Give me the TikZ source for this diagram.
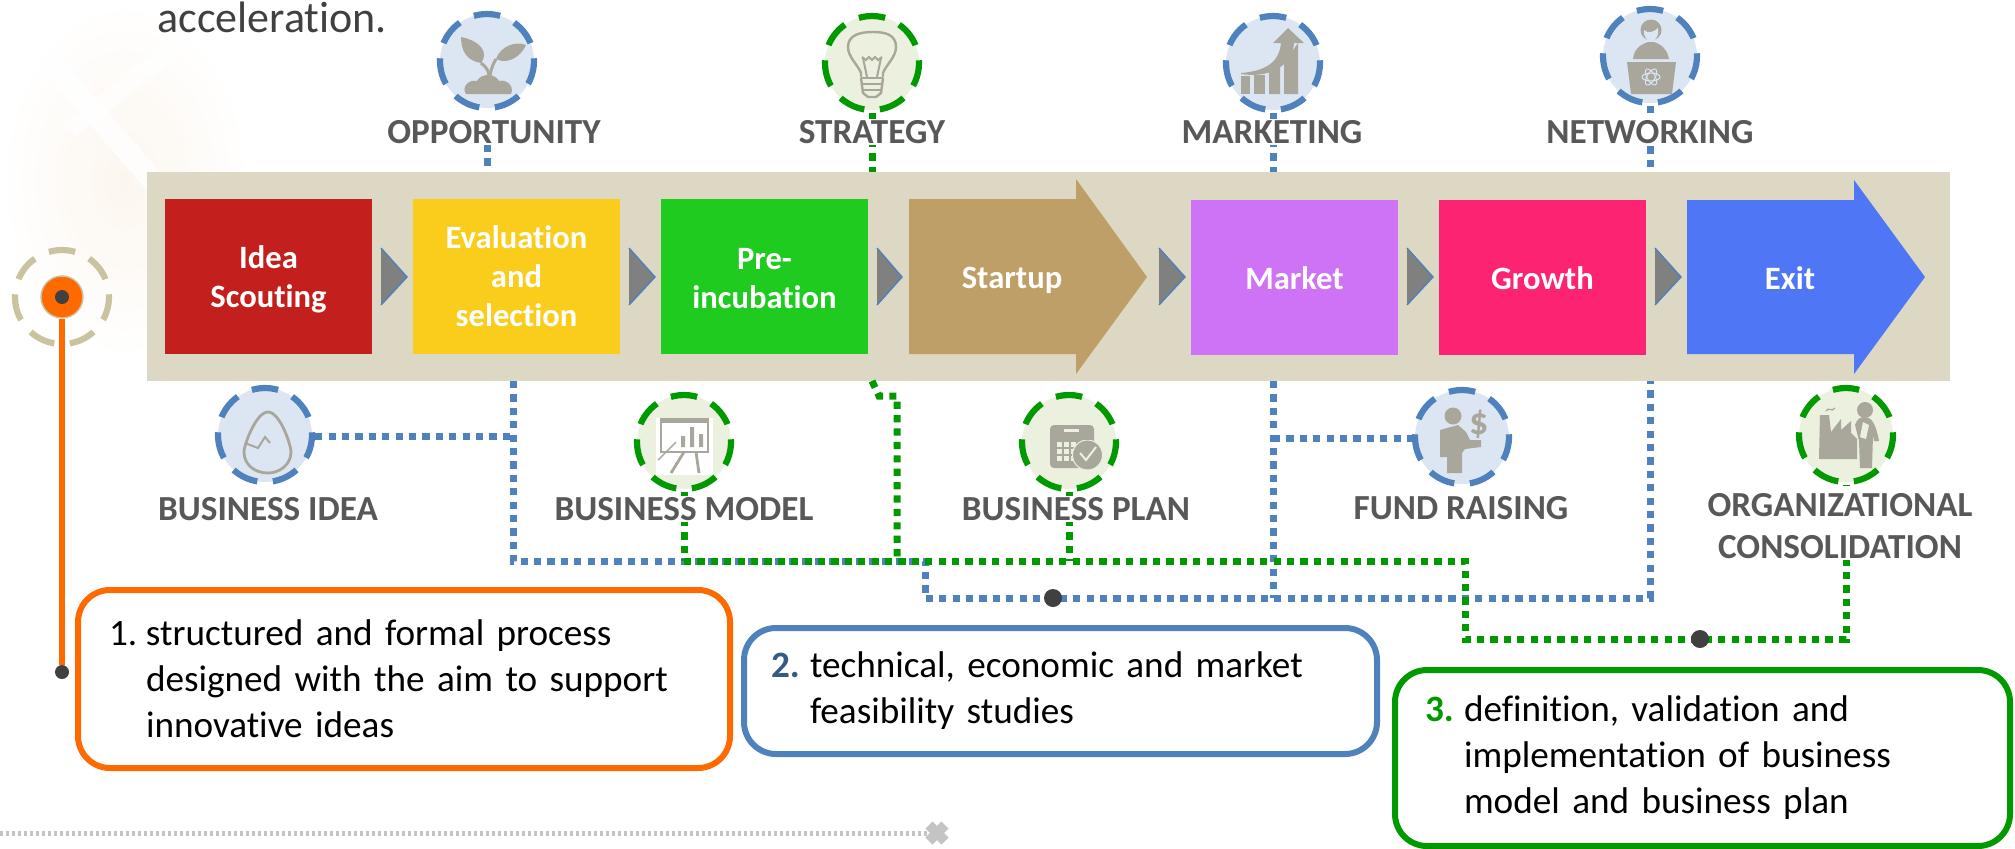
\documentclass[tikz,border=0pt]{standalone}
\usepackage{fontspec}
\setmainfont{Carlito}[Ligatures=NoCommon]
\definecolor{bandcol}{HTML}{DDD8C3}
\definecolor{ideared}{HTML}{C31F1C}
\definecolor{evalyellow}{HTML}{FACC1C}
\definecolor{pregreen}{HTML}{20CB20}
\definecolor{startuptan}{HTML}{BE9F68}
\definecolor{marketpink}{HTML}{CE73F5}
\definecolor{growthred}{HTML}{FC2372}
\definecolor{exitblue}{HTML}{4F77F5}
\definecolor{linkblue}{HTML}{4F81BD}
\definecolor{linkgreen}{HTML}{009A00}
\definecolor{linkorange}{HTML}{FF6A00}
\definecolor{ringtan}{HTML}{C9C3A0}
\definecolor{paleblue}{HTML}{DCE6F2}
\definecolor{palegreen}{HTML}{EBF0DF}
\definecolor{icongrey}{HTML}{A9A69C}
\definecolor{labelgrey}{HTML}{585858}
\definecolor{darkdot}{HTML}{404040}
\definecolor{chevgrey}{HTML}{808080}
\definecolor{dotgrey}{HTML}{C4C4C4}
\definecolor{peach}{HTML}{FCF6EE}
\tikzset{
	stagebox/.style={draw=none, inner sep=0pt, minimum width=103.5pt, minimum height=77.5pt},
	stagetext/.style={align=center, text=white, inner sep=0pt, font=\fontsize{16.3}{19.5}\selectfont\bfseries},
	ringbase/.style={circle, minimum size=47pt, inner sep=0pt, line width=3.1pt, dash pattern=on 13.3pt off 7.8pt, dash phase=11.95pt},
	bluering/.style={ringbase, draw=linkblue, fill=paleblue},
	greenring/.style={ringbase, draw=linkgreen, fill=palegreen},
	tanring/.style={ringbase, draw=ringtan},
	toplabel/.style={fill=white, text=labelgrey, align=center, inner sep=0.5pt, font=\fontsize{17.6}{21}\selectfont\bfseries},
	bluelink/.style={draw=linkblue, line width=3.5pt, dash pattern=on 3.6pt off 3.1pt},
	greenlink/.style={draw=linkgreen, line width=3.5pt, dash pattern=on 3.6pt off 3.1pt},
	blackdot/.style={circle, fill=darkdot, inner sep=0pt, minimum size=9pt},
	notebox/.style={draw, rounded corners=16pt, line width=3pt, align=left, inner ysep=0pt, font=\fontsize{18.6}{23}\selectfont},
	chevron/.style={fill=chevgrey},
	chevedge/.style={draw=linkblue, line width=0.7pt},
	icon/.style={fill=icongrey, draw=none},
	iconline/.style={draw=icongrey, line width=1.2pt}
}
\begin{document}
\begin{tikzpicture}[x=0.5pt, y=-0.5pt]
	\useasboundingbox (0,0) rectangle (2015,848);

	\shade[inner color=peach, outer color=white] (0,0) rectangle (250,360);
	\draw[white, line width=11pt, opacity=0.8] (0,5) -- (170,200);
	\draw[white, line width=9pt, opacity=0.7] (70,130) -- (190,35);

	\node[text=darkdot, anchor=base west, inner sep=0pt, font=\fontsize{22}{26}\selectfont] (accel) at (157,32) {acceleration.};

	\node[fill=bandcol, minimum width=901.5pt, minimum height=104.5pt, inner sep=0pt] (band) at (1048.5,276.5) {};

	\node[stagebox, fill=ideared] (idea) at (268.5,276.5) {};
	\node[stagebox, fill=evalyellow] (eval) at (516.5,276.5) {};
	\node[stagebox, fill=pregreen] (preinc) at (764.5,276.5) {};
	\fill[startuptan] (909,199) -- (1076,199) -- (1076,179) -- (1147,277) -- (1076,374) -- (1076,354) -- (909,354) -- cycle;
	\node[stagebox, fill=marketpink] (market) at (1294.5,277.5) {};
	\node[stagebox, fill=growthred] (growth) at (1542.5,277.5) {};
	\fill[exitblue] (1687,200) -- (1854,200) -- (1854,180) -- (1925,277) -- (1854,374) -- (1854,354) -- (1687,354) -- cycle;

	\node[stagetext] (ideaText) at (268.5,279.5) {Idea\\Scouting};
	\node[stagetext] (evalText) at (516.5,276.5) {Evaluation\\and\\selection};
	\node[stagetext] (preincText) at (764.5,278.5) {Pre-\\incubation};
	\node[stagetext] (startupText) at (1012,280) {Startup};
	\node[stagetext] (marketText) at (1294.5,278) {Market};
	\node[stagetext] (growthText) at (1542.5,278) {Growth};
	\node[stagetext] (exitText) at (1790,278) {Exit};

	\foreach \cx/\cw in {381/26, 629/26, 877/25, 1159/26, 1407/26, 1655/26}{
		\fill[chevron] (\cx,248) -- (\cx+\cw,277) -- (\cx,305) -- cycle;
		\draw[chevedge] (\cx,248) -- (\cx+\cw,277) -- (\cx,305);
	}

	\node[bluering] (oppIcon) at (487,61) {};
	\node[greenring] (stratIcon) at (872,63) {};
	\node[bluering] (markIcon) at (1273,63) {};
	\node[bluering] (netIcon) at (1650,56) {};
	\node[bluering] (ideaIcon) at (265,435) {};
	\node[greenring] (modelIcon) at (684,442) {};
	\node[greenring] (planIcon) at (1069,442) {};
	\node[bluering] (fundIcon) at (1462,437) {};
	\node[greenring] (orgIcon) at (1846,435) {};

	\begin{scope}[shift={(oppIcon.center)}]
		\fill[icon] (-26,-24) .. controls (-6,-20) and (2,-8) .. (-6,2) .. controls (-20,0) and (-26,-10) .. cycle;
		\fill[icon] (39,-16) .. controls (30,-20) and (14,-16) .. (9,-2) .. controls (20,4) and (34,-4) .. cycle;
		\draw[iconline, line width=1.5pt] (-6,2) .. controls (2,8) and (3,14) .. (2,22);
		\draw[iconline, line width=1.5pt] (9,-2) .. controls (5,4) and (3,12) .. (2,22);
		\fill[icon] (-21,33) -- (24,33) .. controls (28,24) and (18,18) .. (12,20) .. controls (8,12) and (-6,12) .. (-10,20) .. controls (-18,18) and (-26,26) .. (-21,33) -- cycle;
	\end{scope}

	\begin{scope}[shift={(stratIcon.center)}]
		\draw[iconline] (-11,14) -- (-11,10) .. controls (-14,2) and (-24,-6) .. (-24,-16) .. controls (-24,-28) and (-12,-31) .. (1,-31) .. controls (14,-31) and (24,-28) .. (24,-16) .. controls (24,-6) and (14,2) .. (11,10) -- (11,14);
		\draw[iconline, line width=1pt] (-10,-6) -- (-6,-3) -- (-3,-6) -- (0,-3) -- (3,-6) -- (6,-3) -- (10,-6);
		\draw[iconline, line width=1pt] (-9,-5) -- (-5,14) (9,-5) -- (5,14);
		\draw[iconline] (-11,15) -- (11,15) (-10,21) -- (10,21) (-9,27) -- (9,27);
		\draw[iconline] (-11,15) -- (-9,30) -- (-4,34) -- (4,34) -- (9,30) -- (11,15);
	\end{scope}

	\begin{scope}[shift={(markIcon.center)}]
		\fill[icon] (-32,13) -- (-23,13) -- (-23,31) -- (-32,31) -- cycle;
		\fill[icon] (-19,12) -- (-8,12) -- (-8,31) -- (-19,31) -- cycle;
		\fill[icon] (-4,8) -- (7,4) -- (7,31) -- (-4,31) -- cycle;
		\fill[icon] (11,0) -- (25,-20) -- (25,31) -- (11,31) -- cycle;
		\fill[icon] (-32,10) .. controls (-8,8) and (6,0) .. (8,-20) -- (0,-20) -- (15,-35) -- (31,-20) -- (21,-20) .. controls (20,0) and (0,16) .. (-32,11) -- cycle;
	\end{scope}

	\begin{scope}[shift={(netIcon.center)}]
		\fill[icon] (1,-26) circle[radius=10.5];
		\fill[paleblue] (-6,-26) .. controls (-2,-22) and (4,-24) .. (8,-28) -- (8,-22) .. controls (5,-12) and (-3,-12) .. (-6,-22) -- cycle;
		\fill[icon] (-17,3) .. controls (-16,-8) and (-8,-12) .. (-2,-14) -- (4,-14) .. controls (10,-12) and (17,-8) .. (19,3) -- cycle;
		\fill[icon] (-23,6) -- (26,6) -- (22,38) -- (-19,38) -- cycle;
		\draw[paleblue, line width=0.5pt] (1,21) ellipse[x radius=9, y radius=4];
		\draw[paleblue, line width=0.5pt, rotate around={60:(1,21)}] (1,21) ellipse[x radius=9, y radius=4];
		\draw[paleblue, line width=0.5pt, rotate around={-60:(1,21)}] (1,21) ellipse[x radius=9, y radius=4];
	\end{scope}

	\begin{scope}[shift={(ideaIcon.center)}]
		\draw[iconline, line width=1.4pt] (3,-23) .. controls (15,-23) and (26,10) .. (26,17) .. controls (26,30) and (14,38) .. (3,38) .. controls (-10,38) and (-21,30) .. (-21,17) .. controls (-21,10) and (-9,-23) .. (3,-23) -- cycle;
		\draw[iconline, line width=1pt] (-20,8) -- (-7,13) -- (0,2) -- (5,8);
	\end{scope}

	\begin{scope}[shift={(modelIcon.center)}]
		\fill[white] (-28,-24) rectangle (29,33);
		\fill[icon] (-24,-24) rectangle (25,-19);
		\draw[iconline, line width=0.7pt] (-23,-20) -- (-23,10) -- (24,10) -- (24,-20);
		\fill[icon] (-3,-6) rectangle (1,5) (6,-15) rectangle (10,5) (15,-8) rectangle (19,5);
		\draw[iconline, line width=1.4pt] (0,10) -- (-13,31) (12,10) -- (15,31);
		\draw[iconline, line width=0.7pt] (-26,18) -- (-8,0);
	\end{scope}

	\begin{scope}[shift={(planIcon.center)}]
		\fill[icon, rounded corners=2pt] (-19,-17) rectangle (25,26);
		\fill[palegreen] (-5,-13) rectangle (10,-10);
		\foreach \gx in {-12,-5,2}{
			\foreach \gy in {6,13,20}{
				\fill[palegreen] (\gx,\gy-6) rectangle +(5,5);
			}
		}
		\filldraw[fill=icongrey, draw=palegreen, line width=0.5pt] (18.5,13) circle[radius=15];
		\draw[palegreen, line width=1pt] (11,11) -- (17,18) -- (27,5);
		\fill[icon] (13,-5) rectangle (24,-2);
	\end{scope}

	\begin{scope}[shift={(fundIcon.center)}]
		\fill[icon] (-9,-21) circle[radius=8.5];
		\fill[icon] (-22,-7) -- (-4,-12) -- (4,-5) -- (8,3) -- (19,3) -- (19,10) -- (3,12) -- (0,16) -- (0,36) -- (-15,36) -- (-15,20) -- (-22,20) -- cycle;
		\node[text=icongrey, inner sep=0pt, font=\fontsize{19}{19}\selectfont\bfseries] (fundSign) at (17,-13) {\$};
	\end{scope}

	\begin{scope}[shift={(orgIcon.center)}]
		\fill[icon] (-26,-20) -- (-17,-20) -- (-15,-3) -- (-5,-16) -- (-5,-5) -- (5,-14) -- (5,-2) -- (11,4) -- (11,24) -- (-27,24) -- cycle;
		\draw[iconline, line width=0.6pt] (-20,-24) .. controls (-17,-29) and (-15,-22) .. (-11,-27);
		\fill[icon] (19,-25) circle[radius=8];
		\fill[icon] (9,-10) .. controls (11,-16) and (14,-18) .. (19,-18) .. controls (26,-18) and (30,-10) .. (33,6) -- (28,6) -- (27,0) -- (26,33) -- (14,33) -- (13,6) -- cycle;
		\fill[palegreen] (17,-13) -- (23,-10) -- (20,4) -- (14,2) -- cycle;
	\end{scope}

	\coordinate (ideaDrop) at (513,381);
	\coordinate (ideaJoin) at (513,436);
	\coordinate (stepOne) at (925,561);
	\coordinate (stepTwo) at (925,598);
	\coordinate (netDrop) at (1650,381);
	\coordinate (netLow) at (1650,598);
	\coordinate (markDrop) at (1273,381);
	\coordinate (markLow) at (1273,598);
	\coordinate (markJoin) at (1273,438);
	\coordinate (stratDrop) at (872,381);
	\coordinate (stratBendA) at (879,396);
	\coordinate (stratBendB) at (897,396);
	\coordinate (greenJoin) at (897,561);
	\coordinate (greenStart) at (684,561);
	\coordinate (planJoin) at (1069,561);
	\coordinate (greenTurn) at (1465,561);
	\coordinate (greenLow) at (1465,639);
	\coordinate (orgLow) at (1846,639);

	\node[toplabel] (oppLabel) at (494,132) {OPPORTUNITY};

	\draw[bluelink] (oppLabel.south -| oppIcon) -- (oppIcon |- band.north);
	\draw[greenlink] (stratIcon) -- (stratIcon |- band.north);
	\draw[bluelink] (markIcon) -- (markIcon |- band.north);
	\draw[bluelink] (netIcon) -- (netIcon |- band.north);
	\draw[bluelink] (ideaIcon.east |- ideaJoin) -- (ideaJoin);
	\draw[bluelink] (ideaDrop) -- (ideaDrop |- stepOne) -- (stepOne) -- (stepTwo) -- (netLow) -- (netDrop);
	\draw[bluelink] (markDrop) -- (markLow);
	\draw[bluelink] (markJoin) -- (fundIcon.west |- markJoin);
	\draw[greenlink] (stratDrop) -- (stratBendA) -- (stratBendB) -- (greenJoin);
	\draw[greenlink] (modelIcon) -- (greenStart);
	\draw[greenlink] (planIcon) -- (planJoin);
	\draw[greenlink] (greenStart) -- (greenTurn) -- (greenLow) -- (orgLow) -- (orgIcon);

	\node[toplabel] (stratLabel) at (872,132) {STRATEGY};
	\node[toplabel] (markLabel) at (1272,132) {MARKETING};
	\node[toplabel] (netLabel) at (1650,132) {NETWORKING};
	\node[toplabel] (ideaLabel) at (268,509) {BUSINESS IDEA};
	\node[toplabel] (modelLabel) at (684,509) {BUSINESS MODEL};
	\node[toplabel] (planLabel) at (1076,509) {BUSINESS PLAN};
	\node[toplabel] (fundLabel) at (1461,508) {FUND RAISING};
	\node[toplabel, fill=white] (orgLabel) at (1840,526) {ORGANIZATIONAL\\CONSOLIDATION};

	\node[blackdot] (blueDot) at (1053,598) {};
	\node[blackdot] (greenDot) at (1700,639) {};

	\node[tanring] (startRing) at (62,297) {};
	\node[circle, fill=linkorange, draw=ringtan, line width=0.7pt, minimum size=21pt, inner sep=0pt] (startBig) at (62,297) {};
	\node[circle, fill=darkdot, minimum size=7pt, inner sep=0pt] (startCore) at (62,297) {};
	\node[blackdot, minimum size=7pt] (endDot) at (62,672) {};
	\draw[draw=linkorange, line width=3pt] (startBig) -- (endDot);

	\node[notebox, draw=linkorange, minimum width=326pt, minimum height=89pt, inner xsep=15.5pt, text width=295pt] (noteOne) at (404,679) {\makebox[18.5pt][l]{1.}structured and formal process\\\hspace*{18.5pt}designed with the aim to support\\\hspace*{18.5pt}innovative ideas};
	\node[notebox, draw=linkblue, minimum width=316.5pt, minimum height=63pt, inner xsep=13.5pt, text width=289.5pt] (noteTwo) at (1060.5,691) {\makebox[19.5pt][l]{\textcolor{linkblue!70!black}{\bfseries 2.}}technical, economic and market\\\hspace*{19.5pt}feasibility studies};
	\node[notebox, draw=linkgreen, minimum width=307.5pt, minimum height=88pt, inner xsep=15pt, text width=277.5pt] (noteThree) at (1702.5,758) {\makebox[19.5pt][l]{\textcolor{linkgreen}{\bfseries 3.}}definition, validation and\\\hspace*{19.5pt}implementation of business\\\hspace*{19.5pt}model and business plan};

	\node[draw=none, inner sep=0pt, minimum size=1pt] (dotEnd) at (937,833) {};
	\coordinate (dotStart) at (0,833);
	\draw[dotgrey, line width=2.5pt, dash pattern=on 1.6pt off 1.4pt] (dotStart) -- (dotEnd);
	\draw[dotgrey, line width=5pt] (929,825) -- (945,841) (945,825) -- (929,841);
\end{tikzpicture}
\end{document}
